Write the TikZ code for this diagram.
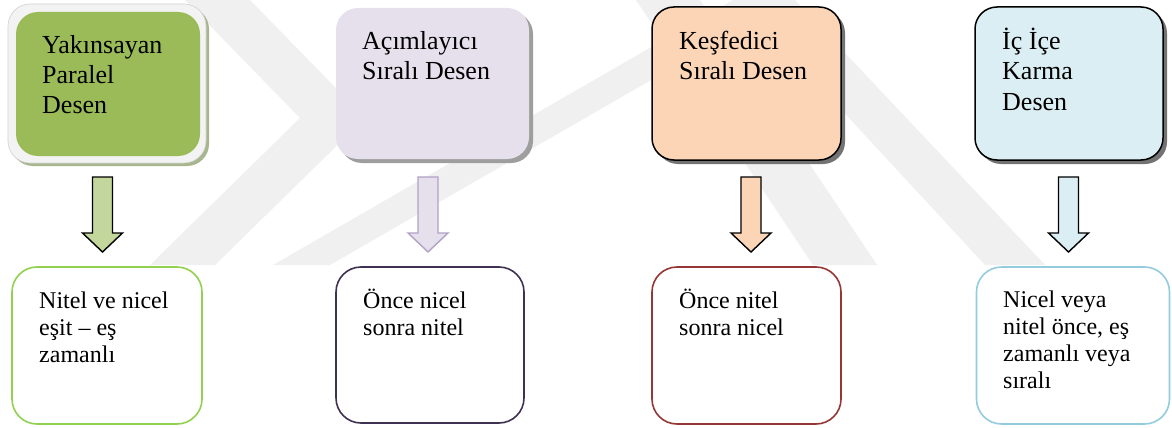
\documentclass[tikz,border=0pt]{standalone}
\usepackage{fontspec}
\setmainfont{Liberation Serif}
\definecolor{wm}{RGB}{240,240,240}
\definecolor{gfill}{RGB}{155,187,89}
\definecolor{gshadow}{RGB}{168,182,142}
\definecolor{gframe}{RGB}{243,243,243}
\definecolor{lfill}{RGB}{229,224,236}
\definecolor{pfill}{RGB}{251,213,181}
\definecolor{bfill}{RGB}{219,238,243}
\definecolor{garrow}{RGB}{195,214,155}
\definecolor{larrowline}{RGB}{178,161,199}
\definecolor{gline}{RGB}{146,208,80}
\definecolor{lline}{RGB}{63,49,81}
\definecolor{pline}{RGB}{149,55,53}
\definecolor{bline}{RGB}{147,205,221}
\tikzset{
  topbox/.style={rectangle, rounded corners=22pt, inner sep=0pt},
  botbox/.style={rectangle, rounded corners=25pt, inner sep=0pt, fill=white, line width=1.6pt},
  boxshadow/.style={rectangle, rounded corners=22pt, inner sep=0pt},
  toptext/.style={anchor=base west, inner sep=0pt, font=\fontsize{26}{30}\selectfont},
  bottext/.style={anchor=base west, inner sep=0pt, font=\fontsize{24}{27}\selectfont},
  blockarrow/.style={line width=1.4pt, line join=miter},
  band/.style={fill=wm, draw=none}
}
\newcommand{\blockarr}[4]{% x, name, fill, draw
  \coordinate (#2) at (#1,177);
  \filldraw[blockarrow, fill=#3, draw=#4] (#1-10,177) -- (#1+10,177) -- (#1+10,233) -- (#1+20,233)
    -- (#1,252) -- (#1-20,233) -- (#1-10,233) -- cycle;}
\newcommand{\twoline}[3]{\vtop{\baselineskip=#1\lineskiplimit=-10pt\hbox{#2}\hbox{#3}}}
\newcommand{\threeline}[4]{\vtop{\baselineskip=#1\lineskiplimit=-10pt\hbox{#2}\hbox{#3}\hbox{#4}}}
\newcommand{\fourline}[5]{\vtop{\baselineskip=#1\lineskiplimit=-10pt\hbox{#2}\hbox{#3}\hbox{#4}\hbox{#5}}}
\begin{document}
\begin{tikzpicture}[x=1pt,y=-1pt]
\useasboundingbox (0,0) rectangle (1172,428);
\fill[white] (0,0) rectangle (1172,428);
% watermark bands
\fill[band] (185,0) -- (250,0) -- (365,118) -- (215,265) -- (150,265) -- (300,118) -- cycle;
\fill[band] (273,265) -- (330,265) -- (790,0) -- (733,0) -- cycle;
\fill[band] (636,0) -- (700,0) -- (877,265) -- (813,265) -- cycle;
\fill[band] (740,0) -- (795,0) -- (1045,265) -- (985,265) -- cycle;
% top box 1
\node[boxshadow, fill=gshadow, minimum width=198pt, minimum height=159pt] (s1) at (110,86.5) {};
\node[boxshadow, fill=gframe, draw=black!18, line width=0.6pt, minimum width=198pt, minimum height=159pt] (f1) at (107,83.5) {};
\node[topbox, fill=gfill, minimum width=184pt, minimum height=144pt] (b1) at (108,84) {};
\node[toptext] (t1) at (42,53) {\threeline{30pt}{Yakınsayan}{Paralel}{Desen}};
% top box 2
\node[boxshadow, fill=black!38, minimum width=193pt, minimum height=151pt] (s2) at (436.5,87.5) {};
\node[topbox, fill=lfill, minimum width=193pt, minimum height=151pt] (b2) at (432.5,83.5) {};
\node[toptext] (t2) at (362,49) {\twoline{30pt}{Açımlayıcı}{Sıralı Desen}};
% top box 3
\node[boxshadow, fill=black!55, minimum width=189pt, minimum height=153pt] (s3) at (750.5,87.5) {};
\node[topbox, fill=pfill, draw=black, line width=1.5pt, minimum width=189pt, minimum height=153pt] (b3) at (746.5,83.5) {};
\node[toptext] (t3) at (679,49) {\twoline{31pt}{Keşfedici}{Sıralı Desen}};
% top box 4
\node[boxshadow, fill=black!55, minimum width=188pt, minimum height=153pt] (s4) at (1073,87.5) {};
\node[topbox, fill=bfill, draw=black, line width=1.5pt, minimum width=188pt, minimum height=153pt] (b4) at (1069,83.5) {};
\node[toptext] (t4) at (1002,49) {\threeline{31pt}{İç İçe}{Karma}{Desen}};
% arrows
\blockarr{102.5}{a1}{garrow}{black}
\blockarr{428}{a2}{lfill}{larrowline}
\blockarr{751}{a3}{pfill}{black}
\blockarr{1068.5}{a4}{bfill}{black}
% bottom boxes
\node[botbox, draw=gline, minimum width=190pt, minimum height=157pt] (c1) at (107,345.5) {};
\node[bottext] (u1) at (39,308) {\threeline{27pt}{Nitel ve nicel}{eşit – eş}{zamanlı}};
\node[botbox, draw=lline, minimum width=188pt, minimum height=156pt] (c2) at (430,345) {};
\node[bottext] (u2) at (363,308) {\twoline{27pt}{Önce nicel}{sonra nitel}};
\node[botbox, draw=pline, minimum width=189pt, minimum height=157pt] (c3) at (746.5,345.5) {};
\node[bottext] (u3) at (679,308) {\twoline{27pt}{Önce nitel}{sonra nicel}};
\node[botbox, draw=bline, minimum width=193pt, minimum height=157pt] (c4) at (1073,345.5) {};
\node[bottext] (u4) at (1003,307) {\fourline{27pt}{Nicel veya}{nitel önce, eş}{zamanlı veya}{sıralı}};
\end{tikzpicture}
\end{document}
